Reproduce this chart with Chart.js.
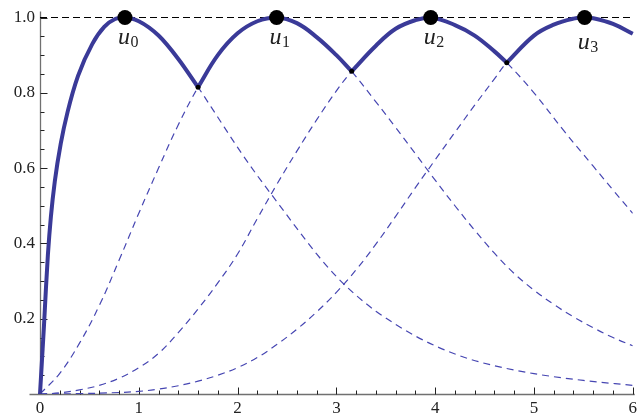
<!DOCTYPE html>
<html>
<head>
<meta charset="utf-8">
<script src="https://cdn.jsdelivr.net/npm/chart.js@4.4.1/dist/chart.umd.min.js"></script>
<style>
  html, body { margin: 0; padding: 0; background: #fff; }
  #wrap { width: 641px; height: 414px; position: relative; }
</style>
</head>
<body>
<div id="wrap"><canvas id="grafico"></canvas></div>
<script>
// curvas (x, y)
const curva0X = [0, 0.02, 0.04, 0.06, 0.08, 0.11, 0.15, 0.21, 0.28, 0.385, 0.53, 0.65, 0.76, 0.86, 1.0, 1.2, 1.4, 1.6, 1.8, 2.0, 2.2, 2.4, 2.6, 2.8, 3.0, 3.2, 3.4, 3.6, 3.8, 4.0, 4.3, 4.6, 5.0, 5.5, 6.0];
const curva0Y = [0, 0.09, 0.18, 0.28, 0.37, 0.47, 0.565, 0.665, 0.75, 0.845, 0.93, 0.975, 0.996, 1.0, 0.99, 0.952, 0.89, 0.815, 0.735, 0.655, 0.58, 0.51, 0.44, 0.372, 0.312, 0.262, 0.22, 0.185, 0.154, 0.128, 0.097, 0.075, 0.054, 0.036, 0.023];

const curva1X = [0, 0.2, 0.4, 0.6, 0.8, 1.0, 1.2, 1.4, 1.6, 1.8, 2.0, 2.2, 2.395, 2.6, 2.8, 3.0, 3.155, 3.4, 3.6, 3.8, 4.0, 4.2, 4.4, 4.6, 4.8, 5.0, 5.2, 5.4, 5.6, 5.8, 6.0];
const curva1Y = [0, 0.055, 0.135, 0.235, 0.355, 0.48, 0.6, 0.715, 0.815, 0.9, 0.958, 0.99, 1.0, 0.985, 0.948, 0.9, 0.857, 0.776, 0.708, 0.638, 0.568, 0.5, 0.435, 0.374, 0.32, 0.276, 0.238, 0.205, 0.176, 0.15, 0.128];

const curva2X = [0, 0.2, 0.4, 0.6, 0.8, 1.0, 1.2, 1.4, 1.6, 1.8, 2.0, 2.2, 2.4, 2.6, 2.8, 3.0, 3.155, 3.4, 3.6, 3.8, 3.955, 4.2, 4.4, 4.6, 4.725, 5.0, 5.3, 5.6, 5.8, 6.0];
const curva2Y = [0, 0.003, 0.011, 0.023, 0.042, 0.07, 0.108, 0.163, 0.226, 0.295, 0.372, 0.466, 0.558, 0.645, 0.728, 0.805, 0.857, 0.925, 0.97, 0.993, 1.0, 0.98, 0.952, 0.91, 0.88, 0.8, 0.70, 0.605, 0.542, 0.48];

const curva3X = [0, 0.4, 0.8, 1.0, 1.2, 1.4, 1.6, 1.8, 2.0, 2.2, 2.4, 2.6, 2.8, 3.0, 3.2, 3.4, 3.6, 3.8, 4.0, 4.2, 4.4, 4.6, 4.725, 5.0, 5.2, 5.4, 5.513, 5.6, 5.8, 6.0];
const curva3Y = [0, 0.001, 0.004, 0.007, 0.013, 0.022, 0.034, 0.05, 0.07, 0.097, 0.132, 0.172, 0.218, 0.27, 0.33, 0.398, 0.472, 0.548, 0.622, 0.695, 0.767, 0.837, 0.88, 0.952, 0.981, 0.997, 1.0, 0.998, 0.983, 0.957];

// picos u_k e cruzamentos do envelope
const picoX = [0.86, 2.395, 3.955, 5.513];
const picoY = [1, 1, 1, 1];
const picoRotulos = ["0", "1", "2", "3"];
const cruzaX = [1.6, 3.155, 4.725];
const cruzaY = [0.815, 0.857, 0.88];

const refX = [0, 6];
const refY = [1, 1];

const xTicks = [0, 1, 2, 3, 4, 5, 6];
const xRotulos = ["0", "1", "2", "3", "4", "5", "6"];
const yTicks = [0.2, 0.4, 0.6, 0.8, 1.0];
const yRotulos = ["0.2", "0.4", "0.6", "0.8", "1.0"];

const FONTE = "'Liberation Serif', 'Times New Roman', serif";

const pontos = (xs, ys) => xs.map((v, i) => ({ x: v, y: ys[i] }));

const curvas = [
  pontos(curva0X, curva0Y),
  pontos(curva1X, curva1Y),
  pontos(curva2X, curva2Y),
  pontos(curva3X, curva3Y),
];

// trecho de cada curva que forma o envelope (linha cheia)
const limites = [0, ...cruzaX, 6];
const envelopes = curvas.map((pts, k) =>
  pts.filter((p) => p.x >= limites[k] - 1e-9 && p.x <= limites[k + 1] + 1e-9),
);

const AZUL = "#3a3a98";
const AZUL_TRACO = "#4646b2";

const datasets = [
  {
    data: pontos(picoX, picoY),
    showLine: false,
    pointRadius: 7.5,
    pointBackgroundColor: "#000",
    pointBorderWidth: 0,
    clip: false,
    order: 0,
  },
  {
    data: pontos(cruzaX, cruzaY),
    showLine: false,
    pointRadius: 2.5,
    pointBackgroundColor: "#000",
    pointBorderWidth: 0,
    clip: false,
    order: 0,
  },
];

envelopes.forEach((pts, k) => {
  datasets.push({
    data: pts,
    borderColor: AZUL,
    borderWidth: 4,
    pointRadius: 0,
    // a subida da primeira curva é quase vertical: monotone evita ondulação
    cubicInterpolationMode: k === 0 ? "monotone" : "default",
    tension: 0.4,
    borderJoinStyle: "round",
    clip: false,
    order: 1,
  });
});

curvas.forEach((pts, k) => {
  datasets.push({
    data: pts,
    borderColor: AZUL_TRACO,
    borderWidth: 1.2,
    borderDash: [7, 5],
    pointRadius: 0,
    cubicInterpolationMode: k === 0 ? "monotone" : "default",
    tension: 0.4,
    order: 2,
  });
});

datasets.push({
  data: pontos(refX, refY),
  borderColor: "#000",
  borderWidth: 1,
  borderDash: [7, 4],
  pointRadius: 0,
  clip: false,
  order: 3,
});

const eixosPlugin = {
  id: "eixos",
  beforeDatasetsDraw(chart) {
    const { ctx, scales: { x, y } } = chart;
    const x0 = Math.round(x.getPixelForValue(0)) + 0.5;
    const y0 = Math.round(y.getPixelForValue(0)) + 0.5;
    ctx.save();
    ctx.strokeStyle = "#707070";
    ctx.lineWidth = 1.3;
    ctx.beginPath();
    ctx.moveTo(x0 - 11, y0);
    ctx.lineTo(x.getPixelForValue(6) + 2, y0);
    ctx.moveTo(x0, y0);
    ctx.lineTo(x0, y.getPixelForValue(1) - 6);
    ctx.stroke();

    ctx.strokeStyle = "#222";
    ctx.lineWidth = 1;
    ctx.beginPath();
    for (let i = 1; i <= 30; i++) {
      const px = Math.round(x.getPixelForValue(i * 0.2)) + 0.5;
      const len = i % 5 === 0 ? 7 : 4;
      ctx.moveTo(px, y0);
      ctx.lineTo(px, y0 - len);
    }
    for (let i = 1; i <= 20; i++) {
      const py = Math.round(y.getPixelForValue(i * 0.05)) + 0.5;
      const len = i % 4 === 0 ? 7 : 4;
      ctx.moveTo(x0, py);
      ctx.lineTo(x0 + len, py);
    }
    ctx.stroke();
    ctx.restore();
  },
};

const rotulosPlugin = {
  id: "rotulos",
  afterDatasetsDraw(chart) {
    const { ctx, scales: { x, y } } = chart;
    ctx.save();
    ctx.fillStyle = "#222";
    ctx.textBaseline = "alphabetic";
    ctx.textAlign = "left";
    picoX.forEach((v, i) => {
      const px = x.getPixelForValue(v);
      const py = y.getPixelForValue(picoY[i]) + (i === 3 ? 31 : 26);
      ctx.font = "italic 24px " + FONTE;
      const w = ctx.measureText("u").width;
      ctx.fillText("u", px - w / 2 - 1, py);
      ctx.font = "16px " + FONTE;
      ctx.fillText(picoRotulos[i], px + w / 2 - 0.5, py + 3);
    });
    ctx.restore();
  },
};

new Chart(document.getElementById("grafico"), {
  type: "line",
  data: { datasets },
  options: {
    responsive: true,
    maintainAspectRatio: false,
    animation: false,
    layout: { padding: { top: 17.5, right: 4, left: 0, bottom: 0 } },
    plugins: { legend: { display: false }, tooltip: { enabled: false } },
    scales: {
      x: {
        type: "linear",
        min: 0,
        max: 6,
        grid: { display: false, drawTicks: false },
        border: { display: false },
        afterBuildTicks: (s) => { s.ticks = xTicks.map((v) => ({ value: v })); },
        afterFit: (s) => { s.height = 20; },
        ticks: {
          padding: 4,
          color: "#222",
          font: { family: FONTE, size: 17 },
          callback: (v, i) => xRotulos[i],
        },
      },
      y: {
        type: "linear",
        min: 0,
        max: 1,
        grid: { display: false, drawTicks: false },
        border: { display: false },
        afterBuildTicks: (s) => { s.ticks = yTicks.map((v) => ({ value: v })); },
        afterFit: (s) => { s.width = 40; },
        ticks: {
          padding: 5,
          color: "#222",
          font: { family: FONTE, size: 17 },
          callback: (v, i) => yRotulos[i],
        },
      },
    },
  },
  plugins: [eixosPlugin, rotulosPlugin],
});
</script>
</body>
</html>
